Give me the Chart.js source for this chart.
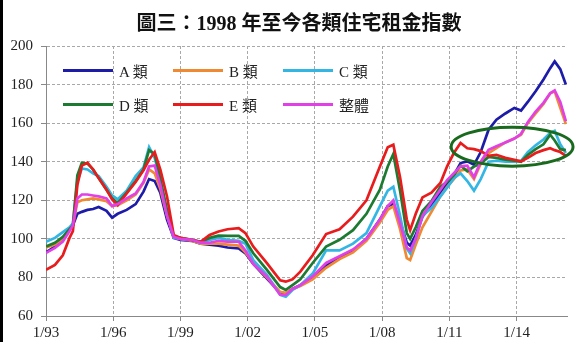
<!DOCTYPE html>
<html><head><meta charset="utf-8">
<script src="https://cdn.jsdelivr.net/npm/chart.js@4.4.1/dist/chart.umd.min.js"></script>
<style>
html,body{margin:0;padding:0;background:#fff;}
#wrap{position:relative;width:580px;height:342px;overflow:hidden;background:#fff;}
#leftbar{position:absolute;left:0;top:0;width:3px;height:342px;background:#000;z-index:3;}
#title{position:absolute;left:0;top:11px;width:580px;line-height:24px;text-align:center;font-weight:bold;font-size:20px;font-family:"Liberation Serif","Noto Sans CJK TC",serif;color:#111;padding-left:18px;box-sizing:border-box;z-index:2;}
.lg{position:absolute;display:flex;align-items:center;height:18px;font-size:15px;font-family:"Liberation Serif","Noto Sans CJK TC",serif;color:#222;z-index:2;white-space:nowrap;}
.lg i{display:inline-block;width:50px;height:3px;margin-right:6px;}
canvas{position:absolute;left:0;top:0;}
</style></head>
<body>
<div id="wrap">
<canvas id="c" width="580" height="342"></canvas>
<div id="leftbar"></div>
<div id="title">圖三：1998 年至今各類住宅租金指數</div>
</div>
<script>
const titleText = '圖三：1998 年至今各類住宅租金指數';
const seriesNames = ['A 類','B 類','C 類','D 類','E 類','整體'];
const seriesColors = ['#1c1ca8','#f08a32','#34b6e4','#1d7a31','#e81c1c','#e040e6'];
const xTickYears = [1993,1996,1999,2002,2005,2008,2011,2014];
const yTicks = [60,80,100,120,140,160,180,200];
const dates = [1993.0,1993.4,1993.75,1994.05,1994.2,1994.4,1994.6,1994.85,1995.1,1995.35,1995.7,1995.95,1996.2,1996.6,1997.0,1997.35,1997.6,1997.85,1998.1,1998.4,1998.7,1999.0,1999.5,1999.9,2000.3,2000.7,2001.1,2001.6,2001.9,2002.25,2002.85,2003.45,2003.7,2004.0,2004.35,2004.9,2005.5,2006.1,2006.7,2007.3,2007.9,2008.25,2008.5,2008.8,2009.1,2009.25,2009.5,2009.8,2010.2,2010.6,2010.9,2011.2,2011.5,2011.8,2012.1,2012.4,2012.75,2013.1,2013.5,2013.9,2014.2,2014.5,2014.85,2015.2,2015.5,2015.7,2015.95,2016.2];
const seriesA = [93,96,100,105,107,113,114,115,115.5,116.5,114.5,111,113,115,118,124.5,131,130,124,110,100.5,99.5,99,97.5,97,96.5,95.5,95,92.5,87,79.5,72,71.5,74,76,80,86,90.5,94,100,110,117,118,109,98,96.5,102,111.5,117.5,123.7,128.5,133,139.3,140.2,138.4,145,156.6,161.8,165,167.9,166.5,171,176.5,182.6,188.5,192,188,180];
const seriesB = [95.5,97,100,105,107,119,120,120.5,121,120.5,119.5,117,117.5,120,123,129,136,134,126,112,101,100,99,97.5,97.5,97.5,97,96.5,93,87.5,80,72.5,72,74,75.5,79,85,89.5,93,99,108.5,115,117,105,90,89,97,106,114,122,127,131,135.5,136,131,139,144.5,147,150,152,154,160,165,170,175.5,176.5,168,159.5];
const seriesC = [98.5,100.5,103.5,106,108,130,136.5,136,134,132.5,127,122.5,120.5,125,132.5,137,147.5,142,131,113,100.5,100,99.5,98,99.5,100.5,99.5,99,97.5,89,81.5,71,70,73.5,76,82,94,94,97.5,103,117,125,127,112,95,92.5,100,112,116,122,126.5,131.5,134,130,125,131,140,140.5,140,140,140.5,145,148.5,151.5,155,156,149,144.5];
const seriesD = [96,98,101,105,107,133,139.5,139,136,131.5,125.5,121,118.5,124,130,136,146,144,131,115,101.5,100.5,99.5,98.5,100.5,101.7,101.5,101.5,99,92.5,84,75,73.5,76,79,87.5,96,99.5,104.5,113,125.5,137.5,144,125,103,100,106,114.5,119.5,127,129.5,133,138,135,137.5,139,142.5,142,141,140.5,140,143.5,146.5,149,154,151,146.5,146];
const seriesE = [84,86.5,91.5,100.5,104,128,138,139.5,136,131.5,125.5,120.5,117.5,123.5,129.5,135.5,141,145,136,122,102,100.5,99.5,98.5,102,103.8,105,105.5,103,96,87.5,78.5,77.8,79,83,91.5,102.5,105,111.5,120,137.5,147.5,148.8,132,110,104.5,113,121.5,124,129,137.6,144.5,149.7,147,146.5,145.5,143,143.6,142,141,140.2,142,144.5,146,147,146,145,143];
const seriesM = [92.7,95.3,98.6,104,107,121,123,123,122.5,122,121,117,118,121,123.5,129.5,137.5,138,128,112,101,100,99.5,98,98,99,98.5,98.5,94,87,80.5,71,70.9,74,76,80.5,87.5,91,94.5,100,110,117,120,108,95.5,94,100,112,119,125.5,130.5,134,137.6,138,132,140,146.2,148,150,152,154.5,160.5,166,170.5,175.5,177,171,161];
const allSeries = [seriesA,seriesB,seriesC,seriesD,seriesE,seriesM];
// annotation ellipse (data units): centre year, centre value, radius years, radius value
const ellipseCenter = [2013.8, 147.8];
const ellipseRadius = [2.72, 10.1];

document.getElementById('title').textContent = titleText;

// HTML legend
const wrap = document.getElementById('wrap');
const legendCols = [63,173,283];
const legendRows = [61,95];
seriesNames.forEach((n,i)=>{
  const d = document.createElement('div');
  d.className='lg';
  d.style.left = legendCols[i%3]+'px';
  d.style.top = legendRows[Math.floor(i/3)]+'px';
  const sw = document.createElement('i');
  sw.style.background = seriesColors[i];
  d.appendChild(sw);
  d.appendChild(document.createTextNode(n));
  wrap.appendChild(d);
});

const ellipsePlugin = {
  id:'ellipseNote',
  afterDatasetsDraw(chart){
    const {ctx, scales:{x,y}} = chart;
    const cx = x.getPixelForValue(ellipseCenter[0]);
    const cy = y.getPixelForValue(ellipseCenter[1]);
    const rx = Math.abs(x.getPixelForValue(ellipseCenter[0]+ellipseRadius[0]) - cx);
    const ry = Math.abs(y.getPixelForValue(ellipseCenter[1]+ellipseRadius[1]) - cy);
    ctx.save();
    ctx.beginPath();
    ctx.ellipse(cx,cy,rx,ry,0,0,Math.PI*2);
    ctx.lineWidth = 3;
    ctx.strokeStyle = '#1a6a1e';
    ctx.stroke();
    ctx.restore();
  }
};

const tickFont = {family:'Liberation Serif', size:15};
new Chart(document.getElementById('c'), {
  type:'line',
  data:{
    datasets: allSeries.map((s,i)=>({
      label: seriesNames[i],
      data: dates.map((d,j)=>({x:d, y:s[j]})),
      borderColor: seriesColors[i],
      backgroundColor: seriesColors[i],
      borderWidth: 2.7,
      pointRadius: 0,
      tension: 0,
      fill:false,
      order: 6-i
    }))
  },
  options:{
    responsive:false, animation:false, devicePixelRatio:1,
    layout:{padding:{top:46,right:13,left:0,bottom:0}},
    plugins:{legend:{display:false}, tooltip:{enabled:false}, title:{display:false}},
    scales:{
      x:{
        type:'linear', min:1993, max:2016.25,
        afterBuildTicks:s=>{ s.ticks = xTickYears.map(v=>({value:v})); },
        afterFit:s=>{ s.height = 26; },
        ticks:{callback:v=>'1/'+String(v).slice(2), font:tickFont, color:'#222', padding:3, maxRotation:0, autoSkip:false},
        grid:{color:'#a8a8a8', lineWidth:1, tickLength:5, tickColor:'#888', tickBorderDash:[]},
        border:{display:true, color:'#888', width:1, dash:[3,2]}
      },
      y:{
        min:60, max:200,
        afterBuildTicks:s=>{ s.ticks = yTicks.map(v=>({value:v})); },
        afterFit:s=>{ s.width = 46; },
        ticks:{font:tickFont, color:'#222', padding:8},
        grid:{color:'#a8a8a8', lineWidth:1, tickLength:5, tickColor:'#888', tickBorderDash:[]},
        border:{display:true, color:'#888', width:1, dash:[3,2]}
      }
    }
  },
  plugins:[ellipsePlugin]
});
</script>
</body></html>
